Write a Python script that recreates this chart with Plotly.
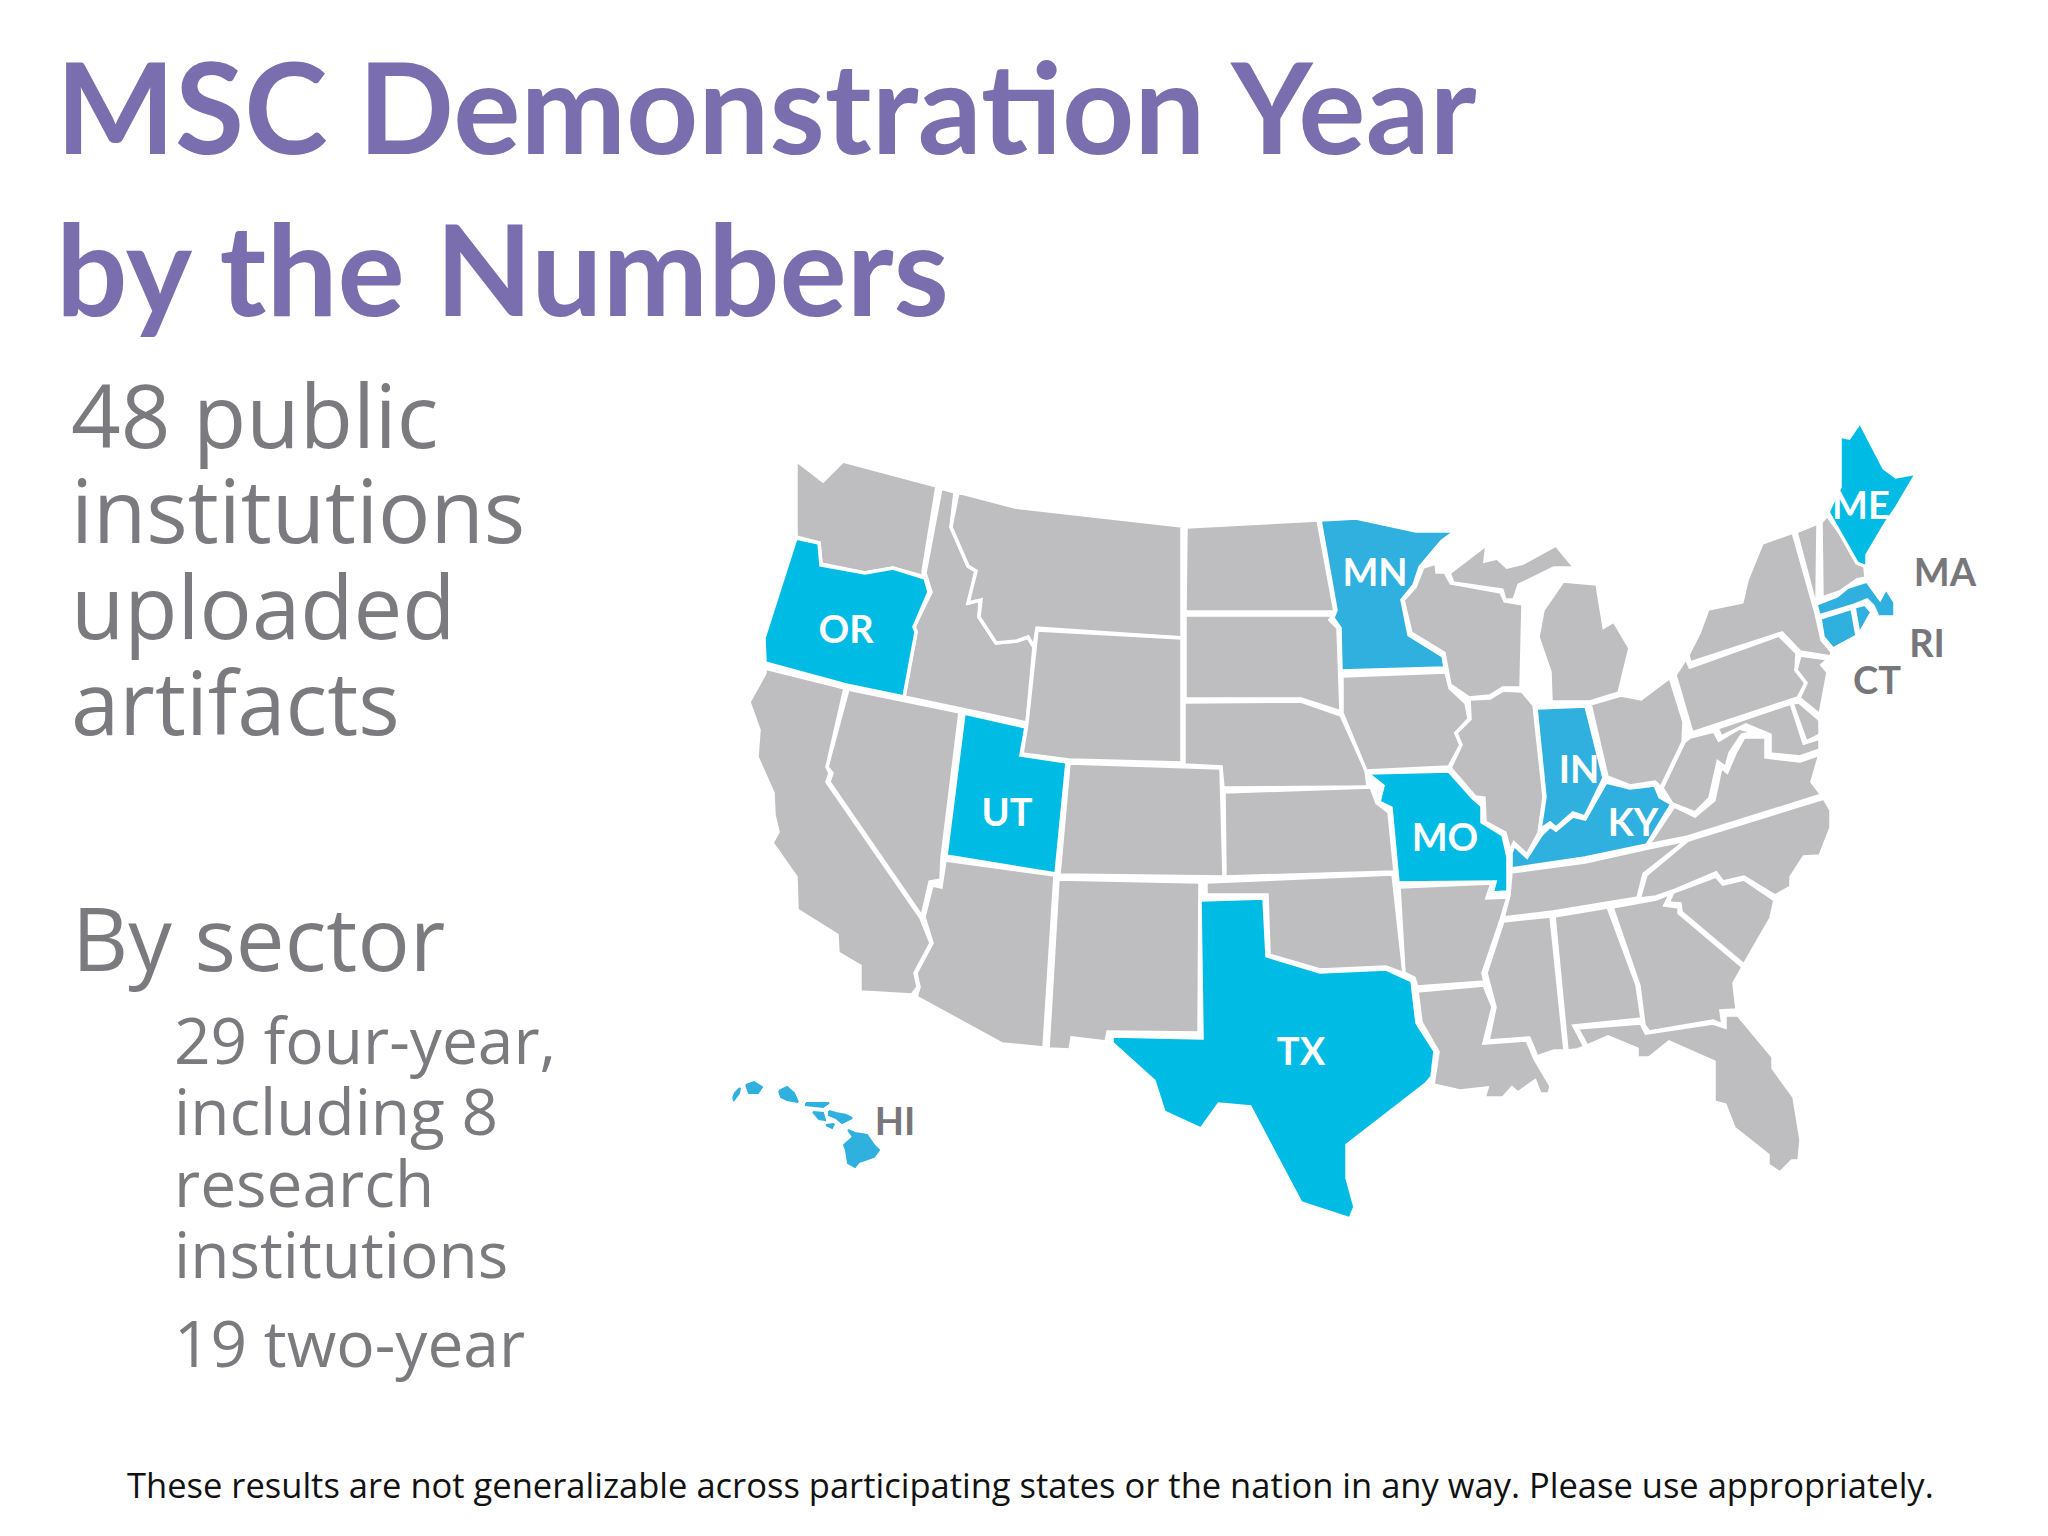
#MSC Demonstration Year map slide
import plotly.graph_objects as go

# Participation groups
GREY = "#BEBDBF"
CYAN = "#00BBE4"
BLUE = "#30B0DE"

# State outlines (x, y in picture pixels)
WA = [(796,460),(823,481),(843,461),(937,486),(923,572),(925,577),(893,568),(865,573),(821,564),(819,543),(796,537)]
OR = [(796,538),(819,543),(821,565),(865,573),(893,568),(925,578),(929,592),(914,627),(916,632),(904,697),(846,685),(765,663),(764,638)]
ID = [(941,488),(955,492),(951,527),(968,566),(976,571),(969,603),(980,600),(979,617),(996,643),(1017,641),(1028,637),(1034,647),(1027,723),(904,697),(916,632),(914,627),(931,592),(925,573)]
MT = [(958,492),(1015,507),(1182,526),(1182,638),(1037,628),(1034,647),(1028,637),(1017,641),(996,643),(979,617),(981,600),(968,603),(976,571),(968,566),(951,527)]
ND = [(1186,527),(1318,520),(1335,612),(1185,612)]
SD = [(1185,615),(1333,615),(1330,620),(1338,628),(1341,712),(1301,699),(1185,699)]
WY = [(1037,630),(1182,638),(1182,763),(1069,760),(1022,754),(1027,723)]
NE = [(1184,702),(1301,701),(1341,715),(1366,770),(1368,787),(1223,788),(1221,767),(1184,765)]
CO = [(1069,763),(1221,768),(1224,877),(1059,875)]
UT = [(964,713),(1026,727),(1021,755),(1067,762),(1056,874),(946,856)]
NV = [(848,689),(960,712),(942,858),(941,880),(930,882),(922,917),(829,782),(832,773),(827,767)]
CA = [(765,668),(845,688),(827,767),(830,773),(827,782),(921,918),(931,943),(915,973),(918,987),(912,995),(860,992),(860,966),(838,953),(837,935),(797,910),(796,877),(777,850),(772,843),(778,832),(774,815),(773,793),(757,757),(759,730),(749,702),(765,673)]
AZ = [(945,860),(1055,875),(1044,1048),(1002,1044),(916,997),(919,987),(916,973),(932,943),(924,917),(932,885),(941,887)]
NM = [(1058,879),(1200,882),(1199,1033),(1108,1032),(1106,1042),(1072,1038),(1070,1050),(1048,1049)]
OK = [(1206,882),(1393,874),(1404,974),(1386,967),(1320,970),(1269,955),(1267,895),(1206,895)]
TX = [(1200,900),(1264,898),(1267,956),(1320,972),(1386,969),(1412,981),(1417,1023),(1435,1051),(1432,1077),(1426,1084),(1347,1145),(1347,1178),(1355,1207),(1350,1219),(1301,1203),(1250,1107),(1219,1104),(1201,1129),(1164,1112),(1154,1081),(1112,1043),(1112,1036),(1202,1038)]
KS = [(1224,792),(1371,787),(1377,803),(1389,812),(1395,872),(1225,877)]
MO = [(1367,773),(1449,771),(1473,798),(1482,806),(1482,822),(1503,835),(1508,857),(1508,892),(1492,893),(1495,882),(1398,883),(1391,808),(1379,802),(1383,786)]
MN = [(1320,520),(1356,518),(1416,531),(1456,531),(1442,541),(1420,567),(1414,585),(1402,600),(1409,635),(1443,656),(1445,668),(1341,671),(1340,628),(1333,618),(1336,610)]
IA = [(1342,676),(1446,672),(1450,688),(1466,703),(1469,719),(1456,733),(1461,745),(1449,767),(1366,771),(1342,713)]
WI = [(1436,563),(1437,572),(1445,572),(1451,583),(1501,592),(1505,601),(1523,604),(1521,688),(1503,688),(1490,696),(1469,698),(1450,685),(1444,653),(1411,633),(1403,600),(1415,587),(1423,567)]
MI_UP = [(1449,573),(1487,544),(1485,561),(1497,558),(1507,567),(1523,563),(1556,545),(1575,568),(1554,568),(1519,585),(1514,600),(1505,600),(1502,590),(1453,583)]
MI_LP = [(1563,581),(1597,584),(1604,627),(1614,621),(1630,648),(1619,693),(1590,702),(1551,702),(1550,672),(1538,637),(1543,610)]
IL = [(1469,699),(1490,698),(1503,690),(1522,691),(1534,705),(1544,797),(1539,833),(1527,855),(1514,843),(1510,852),(1505,833),(1485,822),(1484,798),(1475,797),(1450,768),(1461,745),(1456,733),(1470,719)]
IN = [(1536,708),(1586,706),(1604,778),(1585,817),(1573,813),(1556,828),(1550,823),(1540,830),(1545,797)]
KY = [(1606,782),(1630,788),(1655,785),(1660,797),(1672,804),(1647,845),(1585,858),(1511,869),(1511,853),(1514,845),(1527,857),(1541,835),(1550,826),(1556,830),(1573,816),(1585,819)]
OH = [(1590,704),(1621,695),(1641,699),(1670,677),(1684,722),(1683,742),(1661,788),(1655,782),(1630,786),(1607,777)]
WV = [(1690,737),(1714,731),(1719,740),(1739,728),(1755,732),(1742,735),(1730,753),(1726,768),(1718,762),(1710,798),(1695,813),(1672,804),(1662,788),(1684,742)]
VA = [(1755,737),(1766,737),(1766,757),(1800,761),(1820,754),(1812,782),(1822,795),(1688,837),(1648,845),(1674,806),(1695,816),(1714,800),(1721,767),(1727,772),(1735,753),(1744,737)]
PA = [(1675,675),(1686,658),(1690,667),(1779,635),(1797,653),(1796,670),(1806,683),(1798,698),(1692,733)]
NY = [(1688,655),(1699,633),(1708,609),(1742,602),(1747,580),(1762,543),(1793,532),(1816,613),(1822,640),(1832,652),(1831,657),(1800,652),(1782,633),(1690,663)]
NJ = [(1800,655),(1829,659),(1822,665),(1828,672),(1820,715),(1799,698),(1806,683),(1796,670)]
DE = [(1792,703),(1799,702),(1820,720),(1820,735),(1806,742)]
MD = [(1717,728),(1791,703),(1804,743),(1820,738),(1820,750),(1800,757),(1770,754),(1770,735),(1746,725),(1721,737)]
NC = [(1824,798),(1831,810),(1831,828),(1820,856),(1804,857),(1791,877),(1791,887),(1775,896),(1744,877),(1723,882),(1716,873),(1673,891),(1656,897),(1639,899),(1646,875),(1688,840)]
TN = [(1511,872),(1585,862),(1648,848),(1687,840),(1644,874),(1638,898),(1553,912),(1503,918),(1509,895)]
AR = [(1399,887),(1492,883),(1487,898),(1508,897),(1501,920),(1483,973),(1485,982),(1417,987),(1414,978),(1404,973)]
LA = [(1417,991),(1484,985),(1493,1007),(1484,1043),(1527,1040),(1535,1059),(1551,1086),(1549,1094),(1540,1094),(1535,1081),(1518,1093),(1512,1088),(1503,1098),(1484,1098),(1487,1088),(1460,1091),(1433,1085),(1438,1052),(1421,1022)]
MS = [(1503,921),(1551,916),(1565,1051),(1554,1051),(1537,1057),(1529,1038),(1488,1041),(1495,1007),(1486,973)]
AL = [(1554,916),(1608,907),(1637,985),(1642,1019),(1574,1026),(1585,1047),(1577,1050),(1567,1051)]
GA = [(1612,907),(1656,899),(1671,893),(1665,905),(1679,907),(1679,913),(1743,967),(1734,983),(1737,1010),(1721,1011),(1723,1025),(1713,1021),(1649,1032),(1644,1025),(1639,986)]
SC = [(1673,892),(1716,876),(1723,884),(1744,879),(1775,900),(1771,918),(1744,965),(1681,912),(1680,904),(1668,903)]
FL = [(1577,1028),(1641,1023),(1646,1033),(1713,1023),(1725,1027),(1725,1015),(1738,1015),(1773,1057),(1773,1068),(1794,1097),(1801,1140),(1799,1161),(1792,1161),(1780,1173),(1768,1165),(1768,1155),(1734,1128),(1725,1105),(1714,1102),(1714,1062),(1669,1042),(1649,1058),(1637,1058),(1637,1049),(1608,1037),(1587,1046)]
VT = [(1796,532),(1818,523),(1817,600),(1815,604)]
NH = [(1821,522),(1827,515),(1865,567),(1866,578),(1857,580),(1840,592),(1822,598)]
ME = [(1840,436),(1849,438),(1860,422),(1884,468),(1896,477),(1917,473),(1897,507),(1891,516),(1886,523),(1867,555),(1867,567),(1857,563),(1828,512),(1840,487)]
MA = [(1816,604),(1837,596),(1848,587),(1867,581),(1880,599),(1886,588),(1895,602),(1895,617),(1878,617),(1873,606),(1867,600),(1852,606),(1819,616)]
CT = [(1820,618),(1852,608),(1857,636),(1833,649),(1823,637)]
RI = [(1854,607),(1865,604),(1872,612),(1859,635)]
HI_BIG = [(848,1130),(855,1133),(867,1135),(874,1145),(879,1150),(874,1157),(859,1162),(855,1167),(848,1163),(846,1150),(844,1145),(853,1137)]
HI_MAUI = [(829,1111),(836,1113),(846,1115),(852,1118),(842,1123),(836,1118),(829,1115)]
HI_LANAI = [(813,1112),(823,1113),(825,1120),(819,1119)]
HI_KAHOOLAWE = [(826,1125),(834,1124),(832,1128)]
HI_MOLOKAI = [(806,1103),(829,1103),(823,1107),(806,1105)]
HI_OAHU = [(779,1091),(787,1087),(794,1093),(798,1102),(787,1100),(781,1097)]
HI_KAUAI = [(746,1085),(754,1082),(762,1087),(758,1093),(749,1093)]
HI_NIIHAU = [(733,1098),(735,1093),(740,1088),(739,1093),(734,1100)]

grey_states = [WA,ID,MT,ND,SD,WY,NE,CO,NV,CA,AZ,NM,OK,KS,IA,WI,MI_UP,MI_LP,IL,OH,WV,VA,PA,NY,NJ,DE,MD,NC,TN,AR,LA,MS,AL,GA,SC,FL,VT,NH]
cyan_states = [OR,UT,TX,MO,ME]
blue_states = [MN,IN,KY,MA,CT,RI]
hawaii = [HI_BIG,HI_MAUI,HI_LANAI,HI_KAHOOLAWE,HI_MOLOKAI,HI_OAHU,HI_KAUAI,HI_NIIHAU]

# State labels
map_labels = ["OR","UT","MN","ME","IN","KY","MO","TX"]
map_label_x = [846,1007,1375,1861,1579,1633,1445,1301]
map_label_y = [633,816,576,509,773,826,841,1055]
out_labels = ["HI","MA","RI","CT"]
out_label_x = [895,1945,1927,1877]
out_label_y = [1125,576,647,684]

# Slide text
title_lines = ["MSC Demonstration Year","by the Numbers"]
title_x = [54,54]
title_y = [105,267]
body_lines = ["48 public","institutions","uploaded","artifacts","By sector"]
body_x = [69,69,69,69,70]
body_y = [414,509,605,701,937]
sub_lines = ["29 four-year,","including 8","research","institutions","19 two-year"]
sub_x = [172,172,172,172,172]
sub_y = [1039,1110,1182,1253,1342]
footnote = "These results are not generalizable across participating states or the nation in any way. Please use appropriately."

fig = go.Figure()

def add_state(points, colour, edge="white", width=3.5):
    xs = [p[0] for p in points] + [points[0][0]]
    ys = [p[1] for p in points] + [points[0][1]]
    fig.add_trace(go.Scatter(x=xs, y=ys, mode="lines", fill="toself", fillcolor=colour,
                             line=dict(color=edge, width=width), hoverinfo="skip"))

for s in grey_states:
    add_state(s, GREY)
for s in cyan_states:
    add_state(s, CYAN)
for s in blue_states:
    add_state(s, BLUE)
for s in hawaii:
    add_state(s, BLUE, edge=BLUE, width=2)

fig.add_trace(go.Scatter(x=map_label_x, y=map_label_y, text=map_labels, mode="text",
                         textfont=dict(family="Lato", size=38, color="white", weight=700)))
fig.add_trace(go.Scatter(x=out_label_x, y=out_label_y, text=out_labels, mode="text",
                         textfont=dict(family="Lato", size=38, color="#77777B", weight=700)))

for t, x, y in zip(title_lines, title_x, title_y):
    fig.add_annotation(x=x, y=y, text=t, showarrow=False, xanchor="left", yanchor="middle",
                       font=dict(family="Lato", size=126, color="#7A6EAE", weight=700))
for t, x, y in zip(body_lines, body_x, body_y):
    fig.add_annotation(x=x, y=y, text=t, showarrow=False, xanchor="left", yanchor="middle",
                       font=dict(family="Open Sans", size=87, color="#7B7B7F"))
for t, x, y in zip(sub_lines, sub_x, sub_y):
    fig.add_annotation(x=x, y=y, text=t, showarrow=False, xanchor="left", yanchor="middle",
                       font=dict(family="Open Sans", size=64, color="#7B7B7F"))
fig.add_annotation(x=1030, y=1484, text=footnote, showarrow=False, xanchor="center", yanchor="middle",
                   font=dict(family="Open Sans", size=34.5, color="#111111"))

# page body has an 8px margin, so the axes start at 8
fig.update_layout(width=2048, height=1536, margin=dict(l=0, r=0, t=0, b=0),
                  paper_bgcolor="white", plot_bgcolor="white", showlegend=False,
                  xaxis=dict(range=[8, 2056], visible=False, fixedrange=True),
                  yaxis=dict(range=[1544, 8], visible=False, fixedrange=True))
fig.write_html("out.html")
